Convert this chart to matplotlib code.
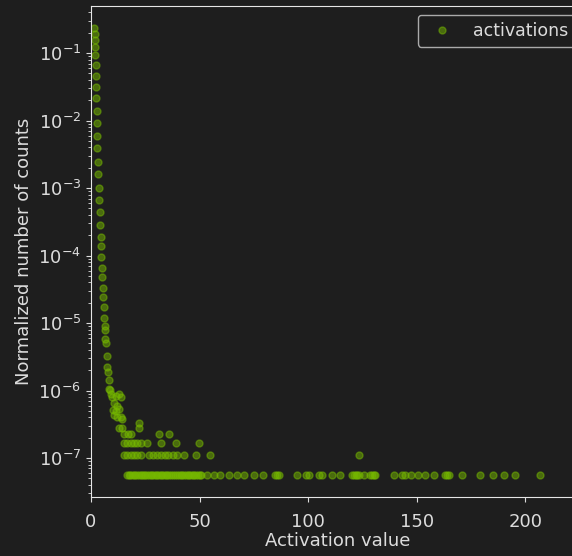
import matplotlib.pyplot as plt
import numpy as np

# steep part of the activation histogram (normalized counts)
x_head = [1.38, 1.70, 1.70, 1.84, 2.02, 2.16, 2.30, 2.48, 2.48, 2.62, 2.76, 2.94,
          2.94, 3.22, 3.40, 3.54, 3.68, 4.00, 4.14, 4.46, 4.60, 4.78, 4.92, 5.06,
          5.38, 5.52, 5.84, 5.98, 6.30, 6.44, 6.62, 6.76, 7.22, 7.54, 7.82, 8.14,
          8.60, 8.28, 9.06, 9.84, 11.36, 12.88, 13.66, 10.58, 12.14, 11.36, 10.58,
          12.14, 13.66, 14.44, 9.98, 12.88]
y_head = [0.239, 0.194, 0.156, 0.124, 0.0934, 0.0664, 0.0456, 0.0317, 0.0213,
          0.0140, 0.00909, 0.00589, 0.00387, 0.00245, 0.00160, 0.00102, 6.64e-4,
          4.46e-4, 2.83e-4, 1.90e-4, 1.38e-4, 9.6e-5, 6.6e-5, 4.75e-5, 3.27e-5,
          2.40e-5, 1.71e-5, 1.20e-5, 9.0e-6, 7.9e-6, 5.8e-6, 5.0e-6, 3.24e-6,
          2.25e-6, 1.90e-6, 1.43e-6, 1.02e-6, 1.04e-6, 8.8e-7, 7.9e-7, 8.3e-7,
          8.8e-7, 7.9e-7, 6.6e-7, 5.9e-7, 5.0e-7, 4.4e-7, 4.0e-7, 4.0e-7, 3.8e-7,
          5.2e-7, 5.3e-7]

# tail: bins holding only a handful of raw counts
one_count = 5.6e-8
x_c6 = [22.08]
x_c5 = [12.88, 14.44, 22.08]
x_c4 = [15.18, 16.88, 18.58, 31.28, 35.88]
x_c3 = [15.18, 16.74, 18.26, 19.78, 21.34, 22.88, 25.75, 32.05, 38.96, 49.86]
x_c2 = [15.18, 16.74, 18.26, 19.78, 21.34, 22.88, 26.69, 28.4, 30.2, 32.05,
        33.9, 35.7, 37.6, 39.7, 42.8, 48.2, 55.0, 123.3]
x_c1 = [16.7, 17.5, 18.2, 19.0, 19.8, 20.5, 21.3, 22.0, 22.9, 23.6, 24.4, 25.1,
        26.0, 26.7, 27.5, 28.2, 29.0, 29.9, 30.5, 31.3, 32.2, 32.8, 33.6, 34.4,
        35.2, 36.0, 37.0, 38.0, 38.9, 39.7, 40.5, 41.3, 42.1, 42.8, 43.6, 44.5,
        45.3, 46.0, 46.8, 47.6, 48.3, 49.2, 50.0, 50.5, 53.5, 56.6, 59.6, 63.5,
        67.3, 70.4, 75.0, 79.0, 84.9, 85.6, 86.5, 94.9, 98.9, 100.4, 104.9, 106.4,
        111.0, 114.8, 120.2, 120.9, 121.8, 122.6, 123.3, 125.6, 128.6, 129.4,
        130.2, 131.0, 139.4, 143.2, 144.8, 147.5, 150.4, 154.0, 157.8, 163.1,
        163.8, 164.7, 170.8, 179.3, 185.1, 190.3, 195.1, 206.9]

x_tail = x_c1 + x_c2 + x_c3 + x_c4 + x_c5 + x_c6
n_tail = ([1] * len(x_c1) + [2] * len(x_c2) + [3] * len(x_c3) +
          [4] * len(x_c4) + [5] * len(x_c5) + [6] * len(x_c6))

x_all = np.array(x_head + x_tail)
y_all = np.array(y_head + [n * one_count for n in n_tail])

bg = '#1e1e1e'
fg = '#dcdcdc'
plt.rcParams['font.size'] = 13

fig = plt.figure(figsize=(5.72, 5.56), dpi=100, facecolor=bg)
ax = fig.add_axes([0.159, 0.106, 0.862, 0.883], facecolor=bg)

ax.plot(x_all, y_all, 'o', color='#76b900', alpha=0.5, markersize=5,
        label='activations')
ax.set_yscale('log')
ax.set_xlim(0.5, 227)
ax.set_ylim(2.64e-8, 0.497)
ax.set_xticks([0, 50, 100, 150, 200])

ax.set_xlabel('Activation value', color=fg, labelpad=1)
ax.set_ylabel('Normalized number of counts', color=fg)
for s in ax.spines.values():
    s.set_color('#e6e6e6')
ax.tick_params(which='both', colors=fg)
ax.tick_params(axis='x', pad=8)

leg = ax.legend(loc='upper right', facecolor=bg, edgecolor='#aaaaaa',
                labelcolor=fg, framealpha=1, fontsize=12.5)

fig.savefig('out.png', dpi=100, facecolor=bg)
